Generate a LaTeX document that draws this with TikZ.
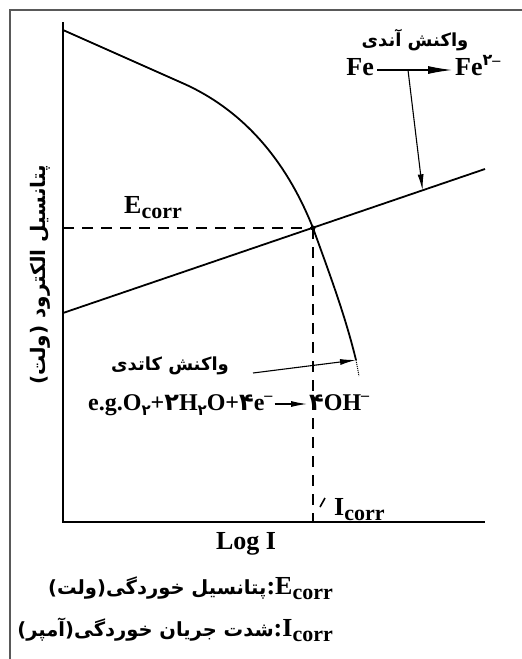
\documentclass[tikz,border=0pt]{standalone}
\usepackage{fontspec}
\setmainfont{Liberation Serif}
\newfontfamily\fa[Script=Arabic]{DejaVu Sans}
\TeXXeTstate=1
\usetikzlibrary{arrows.meta,calc}
\newcommand\lowsub[1]{\raisebox{-5pt}{\fontsize{22}{24}\selectfont #1}}
\newcommand\lowdig[1]{\raisebox{-5pt}{\fontsize{15}{15}\selectfont\fa #1}}
\newcommand\supdig[1]{\raisebox{10pt}{\fontsize{16}{16}\selectfont #1}}
\begin{document}
\begin{tikzpicture}[x=1pt,y=-1pt,
  every node/.style={inner sep=0pt,font=\fontsize{26}{30}\selectfont\bfseries},
  fatext/.style={font=\fontsize{18}{22}\selectfont\bfseries\fa},
  eqtext/.style={font=\fontsize{24}{28}\selectfont\bfseries},
  axisline/.style={line width=2.4pt},
  curveline/.style={line width=1.8pt},
  ptr/.style={line width=1.1pt,-{Latex[length=16pt,width=6pt]}},
  dashline/.style={line width=1.5pt,dash pattern=on 11pt off 8pt}]
\useasboundingbox (0,0) rectangle (522,659);
% frame
\draw[gray!70!black,line width=1.5pt] (10,659) -- (10,10) -- (522,10);
% axes
\coordinate (o) at (63,522);
\coordinate (ytop) at (63,22);
\coordinate (xend) at (485,522);
\draw[axisline] (ytop) -- (o) -- (xend);
% anodic line
\coordinate (a1) at (63,313);
\coordinate (a2) at (485,169);
\draw[curveline] (a1) -- (a2);
% cathodic curve
\coordinate (c0) at (63,30);
\coordinate (c1) at (180,82);
\coordinate (x) at (313,228);
\coordinate (ctip) at (356,360);
\draw[curveline] (c0) -- (c1) .. controls (250,112) and (290,170) .. (x)
  .. controls (330,275) and (345,315) .. (ctip);
\draw[line width=1pt,densely dotted] (ctip) -- (359,376);
\fill (x) circle (2.5pt);
% dashed lines
\coordinate (ey) at (63,228);
\coordinate (ix) at (313,522);
\draw[dashline] (ey) -- (x);
\draw[dashline] (x) -- (ix);
% labels
\node[anchor=base west] (ecorr) at (124,213) {E\lowsub{corr}};
\node[anchor=base west] (icorr) at (334,515) {I\lowsub{corr}};
\draw[line width=1.6pt] (320,507) -- (325,498);
\node[anchor=base] (logi) at (246,549) {Log I};
\node[fatext,font=\fontsize{20}{24}\selectfont\bfseries\fa,rotate=90] (ylab) at (40,275) {\beginR پتانسیل الکترود (ولت)\endR};
% anode reaction
\node[fatext] (anodet) at (415,40) {\beginR واکنش آندی\endR};
\node[anchor=base east] (fe1) at (374,75) {Fe};
\coordinate (fe2x) at (455,0);
\node[anchor=base west] (fe2) at (fe2x |- fe1.base) {Fe\supdig{\fa ۲}\supdig{–}};
\draw[line width=1.1pt,-{Latex[length=24pt,width=8pt]}] ([yshift=5pt,xshift=3pt]fe1.base east) -- ([yshift=5pt,xshift=-3pt]fe2.base west);
\coordinate (ap) at (408,70);
\coordinate (aend) at ($(a1)!0.852!(a2)$);
\draw[ptr] (ap) -- (aend);
% cathode reaction
\node[fatext] (catht) at (170,366) {\beginR واکنش کاتدی\endR};
\coordinate (cp) at (253,373);
\draw[ptr] (cp) -- (ctip);
\node[eqtext,anchor=base west] (eqL) at (88,410) {e.g.O\lowdig{۲}+{\fa ۲}H\lowdig{۲}O+{\fa ۴}e\supdig{–}};
\node[eqtext,anchor=base west] (eqR) at (309,410) {{\fa ۴}OH\supdig{–}};
\draw[line width=1.1pt,-{Latex[length=16pt,width=6pt]}] ([yshift=6pt,xshift=2pt]eqL.base east) -- ([yshift=6pt,xshift=-2pt]eqR.base west);
% legend
\node[anchor=base east] (leg1) at (333,594) {{\fontsize{19.5}{23}\selectfont\fa\beginR پتانسیل خوردگی(ولت)\endR}:E\lowsub{corr}};
\node[anchor=base east] (leg2) at (333,636) {{\fontsize{19.5}{23}\selectfont\fa\beginR شدت جریان خوردگی(آمپر)\endR}:I\lowsub{corr}};
\end{tikzpicture}
\end{document}
